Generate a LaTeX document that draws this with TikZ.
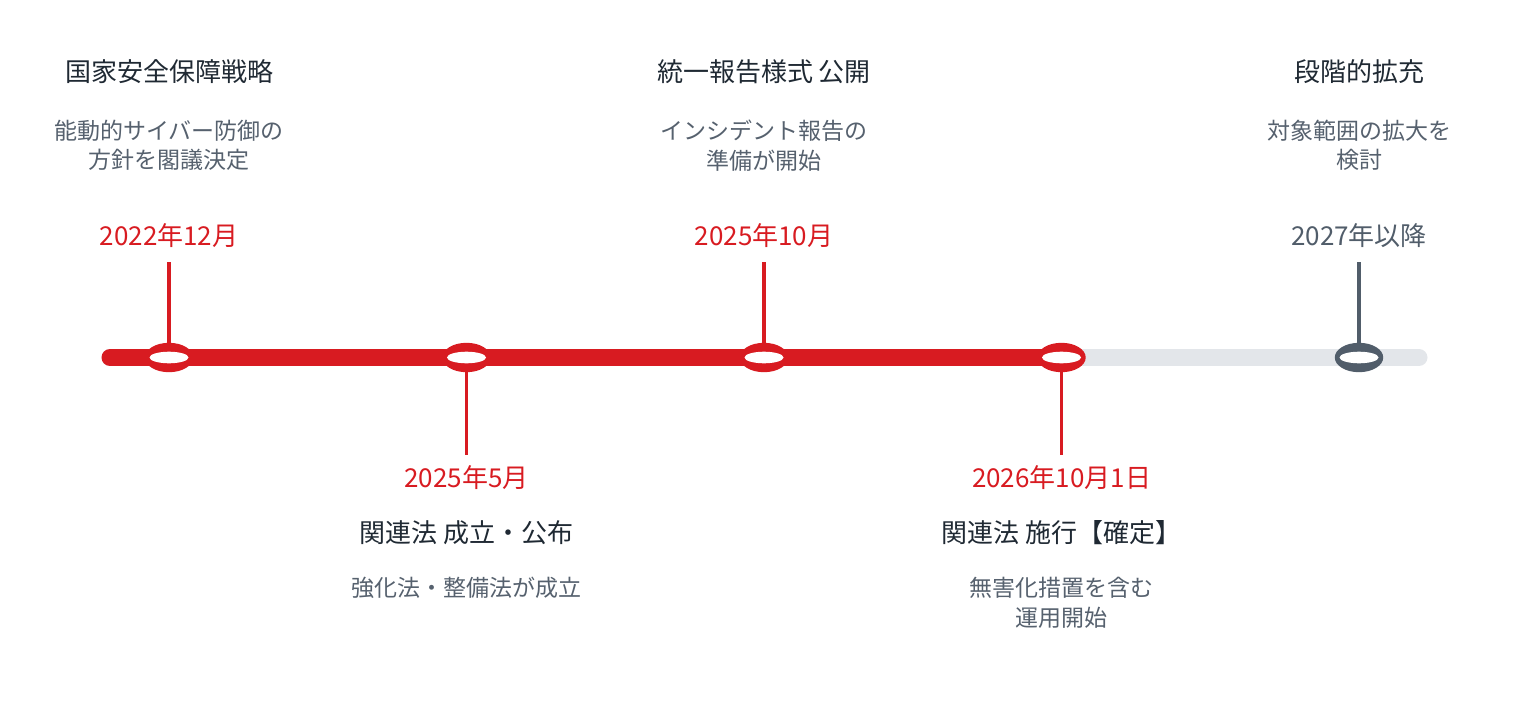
\documentclass[tikz,border=0pt]{standalone}
\usepackage{fontspec}
\setmainfont{Noto Sans CJK JP}
\usepackage{xcolor}
\definecolor{Signal Red}{HTML}{D81B21}
\definecolor{Slate}{HTML}{515D6A}
\definecolor{Ink}{HTML}{1F2933}
\definecolor{Mist}{HTML}{E3E6EA}
\definecolor{Muted}{HTML}{56616E}
\colorlet{cRed}{Signal Red}
\colorlet{cSlate}{Slate}
\usetikzlibrary{calc, shapes.geometric, positioning}
\tikzset{
	node distance = 50pt,
	eventtitle/.style={
		text=Ink,
		font=\fontsize{26}{30}\selectfont,
		inner sep=0pt,
		on grid
	},
	eventnote/.style={
		text=Muted,
		font=\fontsize{23}{29.5}\selectfont,
		align=center,
		inner sep=0pt,
		on grid
	},
	eventdate/.style={
		text=cRed,
		font=\fontsize{26}{30}\selectfont,
		inner sep=0pt,
		on grid
	},
	ring/.style={
		ellipse,
		inner sep=0pt,
		minimum width=48.4pt,
		minimum height=29.4pt
	},
	hole/.style={
		ellipse,
		fill=white,
		inner sep=0pt,
		minimum width=39pt,
		minimum height=11.6pt
	},
	track/.style={
		line width=17pt,
		line cap=round
	},
	stem/.style={
		line width=3.2pt
	}
}

\begin{document}
\begin{tikzpicture}[x=1pt,y=-1pt]
	\useasboundingbox (0,0) rectangle (1528,717);
	\coordinate (start) at (110,357.5);
	\coordinate (stop) at (1419,357.5);
	\foreach \i/\x in {1/169,2/466.5,3/764,4/1061.5,5/1359}
		\coordinate (m\i) at (\x,357.5);

	\node[eventdate] (d1) at ($(m1)+(0,-121.5)$) {2022年12月};
	\node[eventnote, above=90.5pt of d1] (n1) {能動的サイバー防御の\\方針を閣議決定};
	\node[eventtitle, above=73.5pt of n1] (t1) {国家安全保障戦略};

	\node[eventdate] (d2) at ($(m2)+(0,120.5)$) {2025年5月};
	\node[eventtitle, below=55pt of d2] (t2) {関連法 成立・公布};
	\node[eventnote, below=55pt of t2] (n2) {強化法・整備法が成立};

	\node[eventdate] (d3) at ($(m3)+(0,-121.5)$) {2025年10月};
	\node[eventnote, above=90.5pt of d3] (n3) {インシデント報告の\\準備が開始};
	\node[eventtitle, above=73.5pt of n3] (t3) {統一報告様式 公開};

	\node[eventdate] (d4) at ($(m4)+(0,120.5)$) {2026年10月1日};
	\node[eventtitle, below=55pt of d4] (t4) {関連法 施行【確定】};
	\node[eventnote, below=69.75pt of t4] (n4) {無害化措置を含む\\運用開始};

	\node[eventdate, text=cSlate] (d5) at ($(m5)+(0,-121.5)$) {2027年以降};
	\node[eventnote, above=90.5pt of d5] (n5) {対象範囲の拡大を\\検討};
	\node[eventtitle, above=73.5pt of n5] (t5) {段階的拡充};

	\draw[track, Mist] (start) -- (stop);
	\draw[track, cRed] (start) -- (m4);
	\draw[stem, cRed, shorten <=26pt] (d1.center) -- (m1);
	\draw[stem, cRed, shorten >=23pt] (m2) -- (d2.center);
	\draw[stem, cRed, shorten <=26pt] (d3.center) -- (m3);
	\draw[stem, cRed, shorten >=23pt] (m4) -- (d4.center);
	\draw[stem, cSlate, shorten <=26pt] (d5.center) -- (m5);

	\foreach \i/\c in {1/cRed,2/cRed,3/cRed,4/cRed,5/cSlate} {
		\node[ring, fill=\c] (r\i) at (m\i) {};
		\node[hole] (h\i) at (m\i) {};
	}
\end{tikzpicture}
\end{document}
